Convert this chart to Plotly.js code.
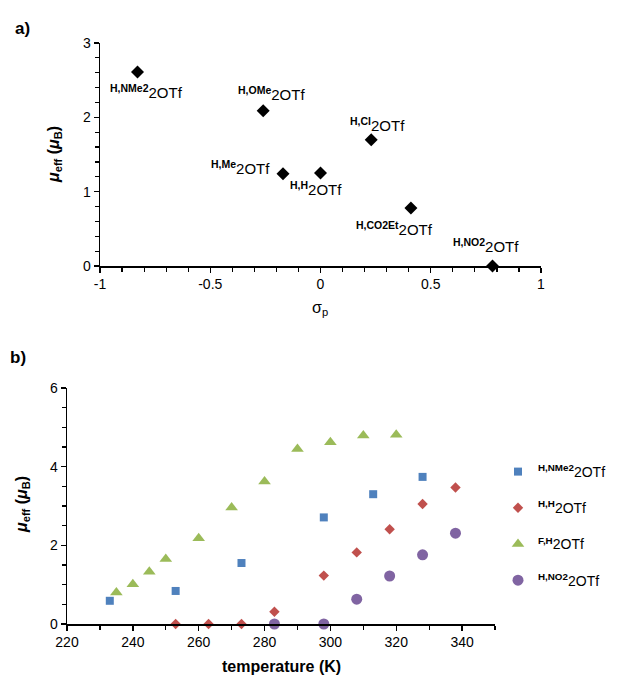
<!DOCTYPE html>
<html>
<head>
<meta charset="utf-8">
<script src="https://cdn.plot.ly/plotly-3.0.1.min.js"></script>
<style>html,body{margin:0;padding:0;background:#fff;}#chart{width:617px;height:678px;}</style>
</head>
<body>
<div id="chart"></div>
<script>
// ---- Panel a data ----
const sigmaP = [-0.83, -0.26, -0.17, 0.0, 0.23, 0.41, 0.78];
const muEffA = [2.61, 2.09, 1.24, 1.25, 1.70, 0.78, 0.00];
const compoundSup = ["H,NMe2", "H,OMe", "H,Me", "H,H", "H,Cl", "H,CO2Et", "H,NO2"];
const sigmaTickVals = [-1, -0.5, 0, 0.5, 1];
const sigmaTickText = ["-1", "-0.5", "0", "0.5", "1"];

// ---- Panel b data ----
const tempNMe2 = [233, 253, 273, 298, 313, 328];
const muNMe2   = [0.59, 0.84, 1.55, 2.71, 3.30, 3.74];
const tempHH   = [253, 263, 273, 283, 298, 308, 318, 328, 338];
const muHH     = [0.00, 0.00, 0.00, 0.31, 1.23, 1.82, 2.41, 3.05, 3.47];
const tempFH   = [235, 240, 245, 250, 260, 270, 280, 290, 300, 310, 320];
const muFH     = [0.80, 1.01, 1.33, 1.65, 2.18, 2.96, 3.62, 4.45, 4.62, 4.79, 4.81];
const tempNO2  = [283, 298, 308, 318, 328, 338];
const muNO2    = [0.00, 0.00, 0.63, 1.22, 1.76, 2.31];
const seriesSup = ["H,NMe2", "H,H", "F,H", "H,NO2"];

// label offsets (pixels) for panel a
const labelShift = [[9,-20],[8,17],[-43,6],[-5,-15],[6,15],[-16,-20],[-6,21]];

const FONT = "Liberation Sans, Arial, sans-serif";
const lbl = s => "<sup><b>" + s + "</b></sup>2OTf";

const traces = [
  {x: sigmaP, y: muEffA, xaxis: "x", yaxis: "y", type: "scatter", mode: "markers",
   marker: {symbol: "diamond", size: 10, color: "#000"}, showlegend: false, cliponaxis: false, hoverinfo: "skip"},
  {x: tempNMe2, y: muNMe2, xaxis: "x2", yaxis: "y2", type: "scatter", mode: "markers", name: lbl(seriesSup[0]),
   legendgroup: "g1", marker: {symbol: "square", size: 8, color: "#4F81BD"}, cliponaxis: false},
  {x: tempHH, y: muHH, xaxis: "x2", yaxis: "y2", type: "scatter", mode: "markers", name: lbl(seriesSup[1]),
   legendgroup: "g2", marker: {symbol: "diamond", size: 8, color: "#C0504D"}, cliponaxis: false},
  {x: tempFH, y: muFH, xaxis: "x2", yaxis: "y2", type: "scatter", mode: "markers", name: lbl(seriesSup[2]),
   legendgroup: "g3", marker: {symbol: "triangle-up", size: 11, color: "#9BBB59"}, cliponaxis: false},
  {x: tempNO2, y: muNO2, xaxis: "x2", yaxis: "y2", type: "scatter", mode: "markers", name: lbl(seriesSup[3]),
   legendgroup: "g4", marker: {symbol: "circle", size: 11, color: "#8064A2"}, cliponaxis: false}
];

const axBase = {
  showgrid: false, zeroline: false, showline: true, linecolor: "#000", linewidth: 1.5,
  ticks: "outside", ticklen: 5, tickwidth: 1.3, tickcolor: "#000", automargin: false,
  tickfont: {family: FONT, size: 14, color: "#000"}, fixedrange: true
};
const minorTicks = d => ({dtick: d, ticks: "outside", ticklen: 4, tickcolor: "#000", tickwidth: 1.2});

const annotations = [];
for (let i = 0; i < sigmaP.length; i++) {
  annotations.push({
    x: sigmaP[i], y: muEffA[i], xref: "x", yref: "y", showarrow: false,
    xanchor: "center", yanchor: "middle",
    text: lbl(compoundSup[i]), xshift: labelShift[i][0], yshift: labelShift[i][1],
    font: {family: FONT, size: 15, color: "#000"}
  });
}
const pa = (px, py, text, size, extra) => Object.assign({
  x: px/617, y: 1 - py/678, xref: "paper", yref: "paper", showarrow: false,
  xanchor: "center", yanchor: "middle", text: text, font: {family: FONT, size: size, color: "#000"}
}, extra || {});
annotations.push(
  pa(22, 28, "<b>a)</b>", 17),
  pa(18, 357, "<b>b)</b>", 17),
  pa(55, 155, "<b><i>μ</i><sub>eff</sub> (<i>μ</i><sub>B</sub>)</b>", 16, {textangle: -90}),
  pa(22, 505, "<b><i>μ</i><sub>eff</sub> (<i>μ</i><sub>B</sub>)</b>", 16, {textangle: -90}),
  pa(320, 309, "σ<sub>p</sub>", 16),
  pa(281, 666, "<b>temperature (K)</b>", 16)
);

const layout = {
  width: 617, height: 678, margin: {l: 0, r: 0, t: 0, b: 0, autoexpand: false},
  paper_bgcolor: "#fff", plot_bgcolor: "#fff",
  xaxis: Object.assign({}, axBase, {domain: [100/617, 541/617], range: [-1, 1],
    tickmode: "array", tickvals: sigmaTickVals, ticktext: sigmaTickText,
    minor: minorTicks(0.1), anchor: "y"}),
  yaxis: Object.assign({}, axBase, {domain: [1 - 266/678, 1 - 43/678], range: [0, 3], dtick: 1,
    minor: minorTicks(0.2), anchor: "x"}),
  xaxis2: Object.assign({}, axBase, {domain: [67/617, 495/617], range: [220, 350], dtick: 20, tick0: 220,
    minor: minorTicks(10), anchor: "y2"}),
  yaxis2: Object.assign({}, axBase, {domain: [1 - 624/678, 1 - 388/678], range: [0, 6], dtick: 2,
    minor: minorTicks(0.5), anchor: "x2"}),
  showlegend: true,
  legend: {x: 498/617, y: 1 - 456/678, xanchor: "left", yanchor: "top", tracegroupgap: 15,
    font: {family: FONT, size: 14, color: "#000"}, bgcolor: "rgba(0,0,0,0)", itemwidth: 30},
  annotations: annotations
};

Plotly.newPlot("chart", traces, layout, {displayModeBar: false, staticPlot: true});
</script>
</body>
</html>
